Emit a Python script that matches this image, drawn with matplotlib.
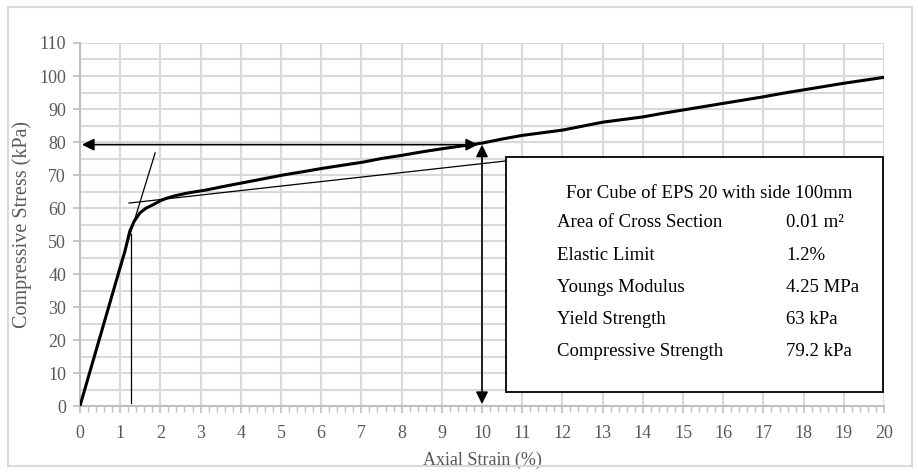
import matplotlib
matplotlib.use('Agg')
import matplotlib.pyplot as plt
import matplotlib.patches as patches
from matplotlib.ticker import MultipleLocator

plt.rcParams['font.family'] = ['Liberation Serif', 'DejaVu Serif']

# stress-strain curve
strain = [0, 0.25, 0.5, 0.75, 1.0, 1.12, 1.24, 1.35, 1.49, 1.65, 1.82, 2.0, 2.16, 2.4,
          2.66, 3.16, 3.6, 4.03, 4.5, 5.05, 5.5, 6.02, 6.5, 7.04, 7.5, 8.03, 8.5, 9.03,
          9.5, 10.02, 10.5, 11.0, 11.5, 12.0, 12.5, 13.0, 13.5, 14.0, 14.5, 15.0, 15.5,
          16.0, 16.5, 17.0, 17.5, 18.0, 18.5, 19.0, 19.5, 20.0]
stress = [0, 10.5, 21, 31.5, 42, 47, 53, 56, 58.5, 60, 61, 62.2, 63, 63.8,
          64.5, 65.5, 66.6, 67.6, 68.7, 70, 70.9, 72, 72.9, 73.9, 75, 76, 77, 78,
          78.8, 79.7, 80.9, 82, 82.8, 83.6, 84.8, 86, 86.8, 87.6, 88.7, 89.7, 90.7,
          91.7, 92.7, 93.7, 94.8, 95.8, 96.8, 97.8, 98.7, 99.6]

# construction lines
elastic_x = [1.02, 1.87]
elastic_y = [43, 76.7]
yield_x = [1.22, 10.7]
yield_y = [61.5, 74.4]
limit_x = [1.27, 1.27]
limit_y = [1, 52]

comp_strength = 79.2
comp_strain = 10

box_title = 'For Cube of EPS 20 with side 100mm'
box_labels = ['Area of Cross Section', 'Elastic Limit', 'Youngs Modulus',
              'Yield Strength', 'Compressive Strength']
box_values = ['0.01 m²', '1.2%', '4.25 MPa', '63 kPa', '79.2 kPa']

fig = plt.figure(figsize=(9.18, 4.72), dpi=100)
ax = fig.add_axes([0.0871, 0.1398, 0.963 - 0.0871, 0.9089 - 0.1398])

fig.patches.append(patches.Rectangle((0.009, 0.013), 0.984, 0.973, transform=fig.transFigure,
                                     fill=False, edgecolor='#d9d9d9', lw=1.5))

ax.set_xlim(0, 20)
ax.set_ylim(0, 110)
ax.xaxis.set_major_locator(MultipleLocator(1))
ax.xaxis.set_minor_locator(MultipleLocator(0.2))
ax.yaxis.set_major_locator(MultipleLocator(10))
ax.yaxis.set_minor_locator(MultipleLocator(5))
ax.grid(which='major', color='#d9d9d9', lw=1.5)
ax.grid(which='minor', axis='y', color='#d9d9d9', lw=1.5)
ax.set_axisbelow(True)
for s in ['top', 'right']:
    ax.spines[s].set_visible(False)
for s in ['left', 'bottom']:
    ax.spines[s].set_color('#bfbfbf')
    ax.spines[s].set_linewidth(1.5)
ax.tick_params(which='major', length=5, color='#bfbfbf', width=1.2, labelsize=13,
               labelcolor='#595959')
ax.tick_params(axis='x', which='major', pad=9)
ax.tick_params(axis='y', which='major', pad=5)
ax.tick_params(which='minor', axis='x', length=4, color='#bfbfbf', width=1)
ax.tick_params(which='minor', axis='y', length=0)

ax.set_xlabel('Axial Strain (%)', fontsize=13, color='#595959', labelpad=7)
ax.set_ylabel('Compressive Stress (kPa)', fontsize=14.5, color='#595959', labelpad=5)

ax.plot(strain, stress, color='black', lw=2.2, zorder=3)
ax.plot(elastic_x, elastic_y, color='black', lw=0.9, zorder=3)
ax.plot(yield_x, yield_y, color='black', lw=0.9, zorder=3)
ax.plot(limit_x, limit_y, color='black', lw=0.9, zorder=3)

arrow = dict(arrowstyle='<|-|>', color='black', lw=1.2, mutation_scale=18,
             shrinkA=0, shrinkB=0)
ax.annotate('', xy=(0.05, comp_strength), xytext=(9.9, comp_strength),
            arrowprops=arrow, zorder=4)
ax.annotate('', xy=(comp_strain, 0.6), xytext=(comp_strain, comp_strength),
            arrowprops=arrow, zorder=4)

box = patches.Rectangle((10.6, 4.2), 19.98 - 10.6, 75.5 - 4.2, facecolor='white',
                        edgecolor='black', lw=1.3, zorder=5)
ax.add_patch(box)
ax.text(15.65, 64.5, box_title, ha='center', va='center', fontsize=13.5, zorder=6)
row_y = [55.5, 45.5, 35.8, 26.1, 16.4]
for yy, lab, val in zip(row_y, box_labels, box_values):
    ax.text(11.87, yy, lab, ha='left', va='center', fontsize=13.5, zorder=6)
    ax.text(17.56, yy, val, ha='left', va='center', fontsize=13.5, zorder=6)

fig.savefig('out.png', dpi=100)
